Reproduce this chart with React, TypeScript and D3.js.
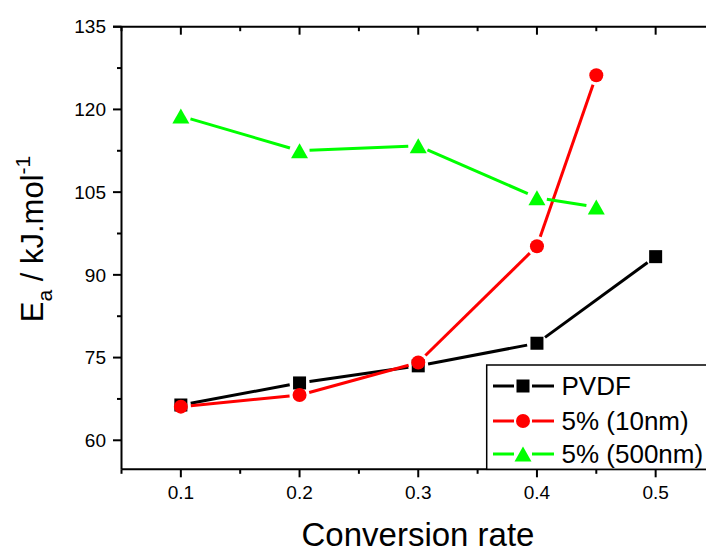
import React from 'react';
import * as d3 from 'd3';

const pvdfX = [0.1, 0.2, 0.3, 0.4, 0.5];
const pvdfY = [66.4, 70.4, 73.5, 77.6, 93.3];
const nm10X = [0.1, 0.2, 0.3, 0.4, 0.45];
const nm10Y = [66.1, 68.2, 74.1, 95.2, 126.2];
const nm500X = [0.1, 0.2, 0.3, 0.4, 0.45];
const nm500Y = [118.8, 112.5, 113.4, 104.0, 102.3];
const xMajor = [0.1, 0.2, 0.3, 0.4, 0.5];
const xMinor = [0.05, 0.15, 0.25, 0.35, 0.45, 0.55];
const yMajor = [60, 75, 90, 105, 120, 135];
const yMinor = [67.5, 82.5, 97.5, 112.5, 127.5];
const seriesNames = ['PVDF', '5% (10nm)', '5% (500nm)'];
const seriesColors = ['#000000', '#ff0000', '#00ff00'];
const seriesShapes = ['square', 'circle', 'triangle'];

const W = 706;
const H = 552;
const FONT = '"Liberation Sans", Arial, sans-serif';

const x = d3.scaleLinear().domain([0.05, 0.55]).range([121.5, 715]);
const y = d3.scaleLinear().domain([54.74, 135]).range([469.3, 26.7]);

function Marker({ cx, cy, shape, color }: { cx: number; cy: number; shape: string; color: string }) {
  if (shape === 'square') return <rect x={cx - 6.5} y={cy - 6.5} width={13} height={13} fill={color} />;
  if (shape === 'circle') return <circle cx={cx} cy={cy} r={7} fill={color} />;
  const p = d3.path();
  p.moveTo(cx, cy - 7.5);
  p.lineTo(cx + 8.5, cy + 7.5);
  p.lineTo(cx - 8.5, cy + 7.5);
  p.closePath();
  return <path d={p.toString()} fill={color} />;
}

function segments(pts: [number, number][], gap: number) {
  const out: string[] = [];
  for (let i = 0; i < pts.length - 1; i++) {
    const [x1, y1] = pts[i];
    const [x2, y2] = pts[i + 1];
    const dx = x2 - x1, dy = y2 - y1;
    const L = Math.hypot(dx, dy);
    if (L <= 2 * gap) continue;
    const ux = dx / L, uy = dy / L;
    const line = d3.line();
    out.push(line([[x1 + ux * gap, y1 + uy * gap], [x2 - ux * gap, y2 - uy * gap]]) as string);
  }
  return out;
}

export default function App() {
  const series = [
    { xs: pvdfX, ys: pvdfY },
    { xs: nm10X, ys: nm10Y },
    { xs: nm500X, ys: nm500Y },
  ];
  const x0 = x(0.05), x1 = x(0.55);
  const yTop = y(135), yBot = y(54.74);
  const legX = 486.7, legY = 365, legRowY = [386, 421, 454];
  return (
    <svg width={W} height={H} style={{ position: 'absolute', left: 0, top: 0, background: '#fff' }} fontFamily={FONT}>
      <rect x={0} y={0} width={W} height={H} fill="#fff" />
      {/* frame */}
      <g stroke="#000" strokeWidth={2} fill="none">
        <line x1={x0} y1={yTop} x2={x0} y2={yBot} />
        <line x1={x0} y1={yBot} x2={x1} y2={yBot} />
        <line x1={113} y1={yTop} x2={x1} y2={yTop} />
        <line x1={x1} y1={yTop} x2={x1} y2={yBot} />
        {xMajor.map((v) => <line key={'xb' + v} x1={x(v)} x2={x(v)} y1={yBot} y2={yBot + 8} />)}
        {xMinor.map((v) => <line key={'xbm' + v} x1={x(v)} x2={x(v)} y1={yBot} y2={yBot + 4.5} />)}
        {xMajor.map((v) => <line key={'xt' + v} x1={x(v)} x2={x(v)} y1={yTop} y2={yTop + 8} />)}
        {xMinor.map((v) => <line key={'xtm' + v} x1={x(v)} x2={x(v)} y1={yTop} y2={yTop + 4.5} />)}
        {yMajor.map((v) => <line key={'yl' + v} x1={x0 - 8.5} x2={x0} y1={y(v)} y2={y(v)} />)}
        {yMinor.map((v) => <line key={'ylm' + v} x1={x0 - 4.5} x2={x0} y1={y(v)} y2={y(v)} />)}
      </g>
      {/* tick labels */}
      <g fontSize={19} fill="#000">
        {xMajor.map((v) => (
          <text key={'xl' + v} x={x(v)} y={498.5} textAnchor="middle">{d3.format('.1f')(v)}</text>
        ))}
        {yMajor.map((v) => (
          <text key={'yl' + v} x={106} y={y(v)} dy="0.35em" textAnchor="end">{v}</text>
        ))}
      </g>
      {/* axis titles */}
      <text x={418} y={546} fontSize={33} textAnchor="middle" fill="#000">Conversion rate</text>
      <text transform={`translate(43,239) rotate(-90)`} fontSize={31} textAnchor="middle" fill="#000">
        E<tspan fontSize={21} dy={9}>a</tspan>
        <tspan dy={-9}> / kJ.mol</tspan>
        <tspan fontSize={21} dy={-13}>-1</tspan>
      </text>
      {/* series */}
      {series.map((s, i) => {
        const pts = s.xs.map((v, j) => [x(v), y(s.ys[j])] as [number, number]);
        return (
          <g key={'s' + i}>
            {segments(pts, 10).map((d, k) => (
              <path key={k} d={d} stroke={seriesColors[i]} strokeWidth={3} fill="none" />
            ))}
            {pts.map(([px, py], k) => (
              <Marker key={k} cx={px} cy={py} shape={seriesShapes[i]} color={seriesColors[i]} />
            ))}
          </g>
        );
      })}
      {/* legend */}
      <rect x={legX} y={legY} width={260} height={yBot - legY} fill="#fff" stroke="#000" strokeWidth={1.5} />
      {seriesNames.map((name, i) => (
        <g key={'l' + i}>
          <line x1={493} x2={514} y1={legRowY[i]} y2={legRowY[i]} stroke={seriesColors[i]} strokeWidth={3} />
          <line x1={532} x2={554} y1={legRowY[i]} y2={legRowY[i]} stroke={seriesColors[i]} strokeWidth={3} />
          <Marker cx={523} cy={legRowY[i]} shape={seriesShapes[i]} color={seriesColors[i]} />
          <text x={561.5} y={legRowY[i]} dy="0.36em" fontSize={26} fill="#000">{name}</text>
        </g>
      ))}
    </svg>
  );
}
